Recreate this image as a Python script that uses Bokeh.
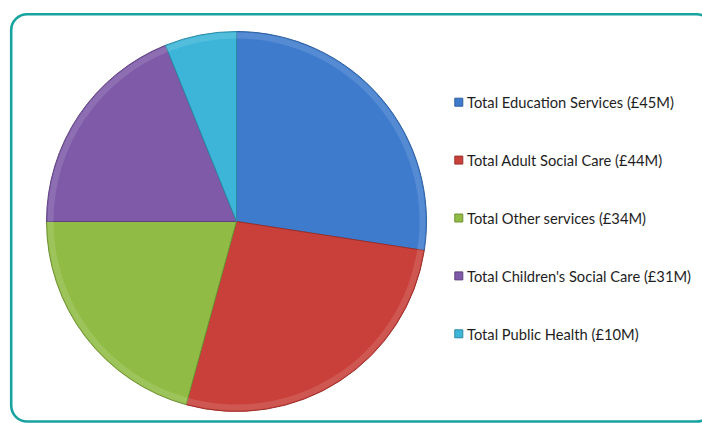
import math
from bokeh.plotting import figure
from bokeh.models import Range1d, BoxAnnotation, ColumnDataSource
from bokeh.core.properties import value
from bokeh.embed import file_html
from bokeh.resources import INLINE

# ---- data ----
categories = ["Total Education Services", "Total Adult Social Care", "Total Other services",
              "Total Children's Social Care", "Total Public Health"]
amounts = [45, 44, 34, 31, 10]  # £M
colors = ["#3E7BCD", "#C9403B", "#90BC45", "#7E5AA8", "#3CB5D8"]
edge_colors = ["#2F5F9F", "#9C2F2B", "#6E8F33", "#5E4380", "#2A8AA6"]

labels = [f"{c} (£{a}M)" for c, a in zip(categories, amounts)]

W, H = 702, 423
p = figure(width=W, height=H, output_backend="svg", toolbar_location=None,
           x_range=Range1d(0, W), y_range=Range1d(0, H), min_border=0)
p.axis.visible = False
p.grid.visible = False
p.outline_line_color = None
p.background_fill_color = "white"
p.border_fill_color = "white"

# rounded frame
p.add_layout(BoxAnnotation(left=10.7, right=712, top=H - 13.7, bottom=H - 421,
                           fill_alpha=0, line_color="#17A3A0", line_alpha=1, line_width=2.6,
                           border_radius=16))

# pie
total = sum(amounts)
cx, cy, r = 236, H - 221, 190
starts, ends = [], []
acc = 0
for a in amounts:
    starts.append(math.pi / 2 - acc / total * 2 * math.pi)
    acc += a
    ends.append(math.pi / 2 - acc / total * 2 * math.pi)

src = ColumnDataSource(dict(start=starts, end=ends, color=colors, edge=edge_colors, label=labels))
p.wedge(x=cx, y=cy, radius=r, start_angle="start", end_angle="end", direction="clock",
        fill_color="color", line_color="edge", line_width=1, source=src)
# subtle bevel rim
p.annular_wedge(x=cx, y=cy, inner_radius=r - 7, outer_radius=r - 1, start_angle="start",
                end_angle="end", direction="clock", fill_color="white", fill_alpha=0.12,
                line_color=None, source=src)

# legend (manual)
n = len(labels)
ly = [H - (101.7 + i * 57.9) for i in range(n)]
leg = ColumnDataSource(dict(x=[458.3] * n, tx=[466.5] * n, y=ly, color=colors, edge=edge_colors, label=labels))
p.rect(x="x", y="y", width=8, height=8, width_units="screen", height_units="screen",
       fill_color="color", line_color="edge", line_width=1, source=leg)
p.text(x="tx", y="y", text="label", text_font=value("Lato"), text_font_size="14.7px",
       text_baseline="middle", text_align="left", text_color="#1E1E1E", source=leg)

open("out.html", "w").write(file_html(p, INLINE))
